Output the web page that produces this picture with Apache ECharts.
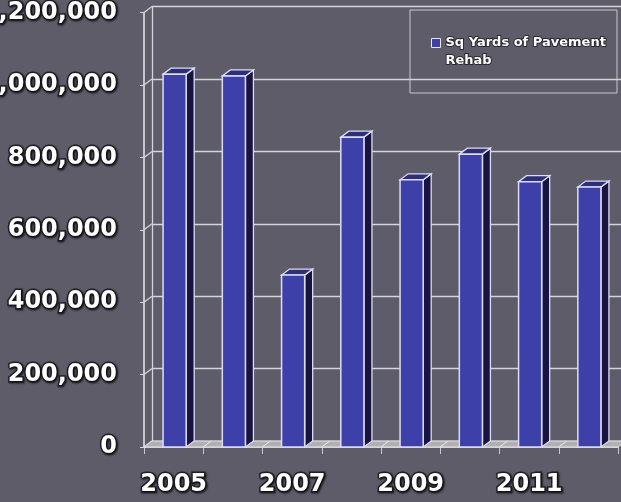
<!DOCTYPE html>
<html>
<head>
<meta charset="utf-8">
<script src="https://cdn.jsdelivr.net/npm/echarts@6/dist/echarts.min.js"></script>
<style>
html,body{margin:0;padding:0;background:#5d5c68;}
#c{width:621px;height:502px;}
</style>
</head>
<body>
<div id="c"></div>
<script>
const years = ['2005','2006','2007','2008','2009','2010','2011','2012'];
const pavementRehab = [1030000, 1025000, 475000, 856000, 738000, 809000, 733000, 718000];
const yTicks = [0, 200000, 400000, 600000, 800000, 1000000, 1200000];
const seriesName = 'Sq Yards of Pavement\nRehab';

const DX = 8, DY = -6;
const chart = echarts.init(document.getElementById('c'), null, {renderer:'canvas'});
const lineCol = '#d4d4dc';
const labelStyle = {
  color:'#ffffff', fontFamily:'DejaVu Sans', fontWeight:'bold', fontSize:24,
  textBorderColor:'#1e1e26', textBorderWidth:3,
  textShadowColor:'rgba(0,0,0,0.6)', textShadowBlur:2, textShadowOffsetX:1, textShadowOffsetY:1
};

function floorItem(params, api){
  const i = api.value(0);
  const bw = api.size([1,0])[0];
  const cx = api.coord([i,0])[0];
  const y0 = api.coord([i,0])[1];
  const x1 = cx - bw/2, x2 = cx + bw/2;
  return {type:'polygon', shape:{points:[[x1,y0],[x2,y0],[x2+DX,y0+DY],[x1+DX,y0+DY]]},
    style:{fill:'#b0b0b4', stroke:'#e6e6ea', lineWidth:1}};
}
function barItem(params, api){
  const i = api.value(0);
  const v = api.value(1);
  const bw = api.size([1,0])[0]*0.39;
  const top = api.coord([i,v]);
  const base = api.coord([i,0]);
  const x1 = top[0]-bw/2+1, x2 = top[0]+bw/2+1;
  const yt = top[1], yb = base[1];
  const edge = '#dcdcf6';
  return {type:'group', children:[
    {type:'polygon', shape:{points:[[x2,yb],[x2,yt],[x2+DX,yt+DY],[x2+DX,yb+DY]]},
      style:{fill:'#18133f', stroke:edge, lineWidth:1.3}},
    {type:'polygon', shape:{points:[[x1,yt],[x2,yt],[x2+DX,yt+DY],[x1+DX,yt+DY]]},
      style:{fill:'#2f2f78', stroke:edge, lineWidth:1.3}},
    {type:'rect', shape:{x:x1, y:yt, width:x2-x1, height:yb-yt},
      style:{fill:'#3d40a8', stroke:edge, lineWidth:1.5}}
  ]};
}
function wallItem(params, api){
  const cs = params.coordSys;
  const y = api.coord([0, api.value(0)])[1];
  return {type:'line', shape:{x1:cs.x, y1:y, x2:cs.x+DX, y2:y+DY},
    style:{stroke:lineCol, lineWidth:1.3}};
}

chart.setOption({
  backgroundColor:'#5d5c68',
  animation:false,
  grid:[
    {left:144, right:3, top:12.6, bottom:55, containLabel:false, outerBoundsMode:'none'},
    {left:144+DX, right:3-DX-10, top:12.6+DY, bottom:55-DY, containLabel:false, outerBoundsMode:'none'}
  ],
  legend:{
    left:431, top:16, padding:0,
    itemWidth:9, itemHeight:9, itemGap:0,
    icon:'rect',
    itemStyle:{borderColor:'#e6e6f6', borderWidth:1},
    formatter:(n)=>'\n'+n,
    textStyle:{color:'#ffffff', fontFamily:'DejaVu Sans', fontWeight:'bold', fontSize:13, lineHeight:18,
      textBorderColor:'#2a2a32', textBorderWidth:2},
    data:[{name:seriesName, itemStyle:{color:'#3d40a8'}}]
  },
  graphic:[
    {type:'rect', shape:{x:410, y:10, width:207, height:83},
      style:{fill:'none', stroke:'#c8c8cc', lineWidth:1}, z:1}
  ],
  xAxis:[
    {type:'category', gridIndex:0, data:years, boundaryGap:true,
      axisLine:{show:true, lineStyle:{color:'#e8e8ec', width:1.5}},
      axisTick:{show:true, interval:0, length:7, lineStyle:{color:'#c8c8cc'}},
      axisLabel:{interval:1, margin:26, ...labelStyle}},
    {type:'category', gridIndex:1, data:years, show:false}
  ],
  yAxis:[
    {type:'value', gridIndex:0, min:0, max:1200000, interval:200000,
      axisLine:{show:true, lineStyle:{color:'#e8e8ec', width:1.5}},
      axisTick:{show:true, length:4, lineStyle:{color:'#d8d8dc'}},
      splitLine:{show:false},
      axisLabel:{margin:27, formatter:(v)=>v.toLocaleString('en-US'), ...labelStyle}},
    {type:'value', gridIndex:1, min:0, max:1200000, interval:200000,
      axisLine:{show:true, lineStyle:{color:lineCol, width:1.3}},
      axisTick:{show:false}, axisLabel:{show:false},
      splitLine:{show:true, lineStyle:{color:lineCol, width:1.3}}}
  ],
  series:[
    {type:'custom', name:'wall', xAxisIndex:0, yAxisIndex:0, renderItem:wallItem,
      data:yTicks.map(v=>[v]), encode:{y:0}, silent:true, z:1},
    {type:'custom', name:'floor', xAxisIndex:0, yAxisIndex:0, renderItem:floorItem,
      data:years.map((y,i)=>[i,0]), silent:true, z:2},
    {type:'custom', name:seriesName, xAxisIndex:0, yAxisIndex:0, renderItem:barItem,
      itemStyle:{color:'#3d40a8'},
      data:pavementRehab.map((v,i)=>[i,v]), encode:{x:0,y:1}, z:3}
  ]
});
</script>
</body>
</html>
